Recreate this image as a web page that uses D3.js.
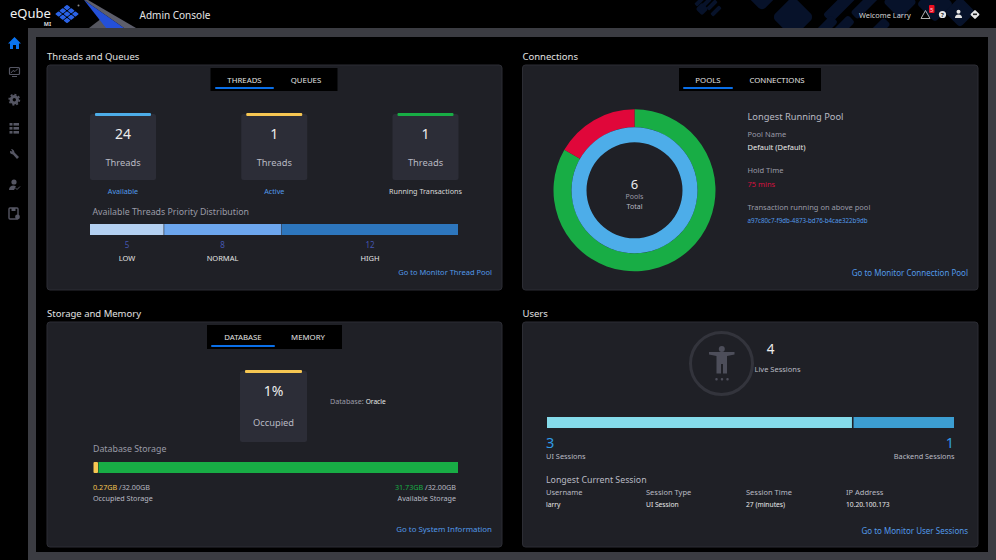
<!DOCTYPE html>
<html>
<head>
<meta charset="utf-8">
<title>Admin Console</title>
<script src="https://cdn.jsdelivr.net/npm/d3@7"></script>
<style>
html, body { margin: 0; padding: 0; background: #000; overflow: hidden; }
svg { display: block; }
text { font-family: "Noto Sans", "Open Sans", sans-serif; }
</style>
</head>
<body>
<svg id="page" width="996" height="560"></svg>
<script>
// chart values
var threadCards = ["Available", "Active", "Running Transactions"];
var threadCounts = [24, 1, 1];
var priorityNames = ["LOW", "NORMAL", "HIGH"];
var priorityCounts = [5, 8, 12];
var poolStates = ["ok", "long running"];
var poolCounts = [5, 1];
var poolTotal = [6];
var storageNames = ["Occupied Storage", "Available Storage"];
var storageUsed = [0.27, 31.73];
var storageTotal = 32;
var sessionNames = ["UI Sessions", "Backend Sessions"];
var sessionCounts = [3, 1];
var sessionHeaders = ["Username", "Session Type", "Session Time", "IP Address"];
var sessionValues = ["larry", "UI Session", "27 (minutes)", "10.20.100.173"];

var colors = {
    blue: "#4dade9", yellow: "#f6c652", green: "#18ad45", red: "#e0073a",
    link: "#5299e8", tab: "#0a6fe8", muted: "#9a9ba6", soft: "#b9bac3",
    panel: "#1f2026", card: "#2c2d37", frame: "#3b3c42"
};

var svg = d3.select("#page");

var label = function(x, y, str, size, fill, anchor, weight) {
    return svg.append("text")
        .attr("x", x).attr("y", y)
        .attr("font-size", size)
        .attr("fill", fill)
        .attr("text-anchor", anchor || "start")
        .attr("font-weight", weight || 400)
        .text(str);
};

var rect = function(x, y, w, h, fill, r) {
    return svg.append("rect")
        .attr("x", x).attr("y", y).attr("width", w).attr("height", h)
        .attr("fill", fill).attr("rx", r || 0);
};

// frame
rect(0, 0, 996, 560, "#000");
rect(28, 28, 968, 532, colors.frame);
rect(36, 37, 952, 515, "#000");

// header decoration, dark tiles behind the welcome text
svg.append("clipPath").attr("id", "headerClip").append("rect")
    .attr("x", 660).attr("y", 0).attr("width", 336).attr("height", 28);
var tiles = svg.append("g").attr("fill", "#07122a").attr("clip-path", "url(#headerClip)");
[[793, 17, 30, 30, 5], [762, -10, 30, 30, 5], [842, 4, 42, 12, 3], [866, 4, 34, 10, 3],
 [826, 27, 24, 10, 3], [843, 27, 24, 10, 3], [700, 1, 12, 4, 1], [706, 3, 12, 4, 1], [712, 5, 12, 4, 1],
 [716, 11, 12, 4, 1], [702, 9, 9, 9, 2], [900, 2, 24, 24, 4],
 [935, 4, 26, 26, 4], [960, 12, 22, 22, 4], [880, 28, 20, 10, 3]].forEach(function(t) {
    tiles.append("rect")
        .attr("x", -t[2] / 2).attr("y", -t[3] / 2)
        .attr("width", t[2]).attr("height", t[3]).attr("rx", t[4])
        .attr("transform", "translate(" + t[0] + "," + t[1] + ") rotate(-45)");
});

// logo
label(10, 17.5, "eQube", 13, "#f1f1f1");
label(47.5, 26, "MI", 5.5, "#d8d8d8", "middle", 700);
var logo = svg.append("g").attr("fill", "#2a62e6").attr("transform", "translate(67,14) scale(1,0.78) rotate(45)");
[0, 1, 2].forEach(function(i) {
    [0, 1, 2].forEach(function(j) {
        logo.append("rect").attr("x", -8.5 + i * 5.9).attr("y", -8.5 + j * 5.9)
            .attr("width", 5.1).attr("height", 5.1).attr("rx", 1);
    });
});
svg.append("circle").attr("cx", 78.5).attr("cy", 5.5).attr("r", 1).attr("fill", "#888");
svg.append("path").attr("d", "M89 28 L102 18 L114 28 Z").attr("fill", "#55565f");
svg.append("path").attr("d", "M84 0 L124 28 L136 28 L88 0 Z").attr("fill", "#5d5e6b");
svg.append("path").attr("d", "M84 0 L106 28 L124 28 Z").attr("fill", "#2450d8");
label(139.5, 19, "Admin Console", 10, "#e4e4e4");

// header right
label(859, 18, "Welcome Larry", 7.4, "#d3d3d3");
svg.append("path").attr("d", "M925.5 10.5 L930 18.5 L921 18.5 Z")
    .attr("fill", "none").attr("stroke", "#b0b0b0").attr("stroke-width", 1);
rect(929, 5, 5.5, 8, "#ee0d1f", 1);
label(931.8, 11.5, "5", 6, "#f3d9d9", "middle");
svg.append("circle").attr("cx", 942.5).attr("cy", 14.5).attr("r", 3.6).attr("fill", "#e6e6e6");
label(942.5, 16.8, "?", 6, "#222", "middle", 700);
svg.append("circle").attr("cx", 958.5).attr("cy", 11.8).attr("r", 2).attr("fill", "#e6e6e6");
svg.append("path").attr("d", "M955 18 Q955 14.5 958.5 14.5 Q962 14.5 962 18 Z").attr("fill", "#e6e6e6");
svg.append("rect").attr("x", -3.4).attr("y", -3.4).attr("width", 6.8).attr("height", 6.8).attr("rx", 1)
    .attr("fill", "#e6e6e6").attr("transform", "translate(975,14.5) rotate(45)");
rect(973, 13.5, 4, 1.6, "#222");

// sidebar icons
svg.append("path").attr("d", "M14.5 37 L21 43.5 L19 43.5 L19 49 L16 49 L16 45 L13 45 L13 49 L10 49 L10 43.5 L8 43.5 Z")
    .attr("fill", "#0a74f0");
var sideGrey = "#555663";
rect(9.5, 67.5, 10, 7, "none", 1).attr("stroke", sideGrey).attr("stroke-width", 1.2);
svg.append("path").attr("d", "M11 73 L13 70.5 L15 71.5 L18 68.5").attr("fill", "none").attr("stroke", sideGrey);
svg.append("path").attr("d", "M12 76.5 L17 76.5").attr("stroke", sideGrey);
svg.append("circle").attr("cx", 14.3).attr("cy", 99.7).attr("r", 3.2)
    .attr("fill", "none").attr("stroke", sideGrey).attr("stroke-width", 3);
svg.append("circle").attr("cx", 14.3).attr("cy", 99.7).attr("r", 5.2)
    .attr("fill", "none").attr("stroke", sideGrey).attr("stroke-width", 1.5).attr("stroke-dasharray", "2 2");
[123, 127, 131].forEach(function(y) {
    rect(9.5, y, 3, 2.6, sideGrey);
    rect(13.5, y, 5.5, 2.6, sideGrey);
});
svg.append("path").attr("d", "M10 151 Q9.5 154 13 154.5 L17 159 L19 157 L14.5 152.5 Q14 149 11 149 L12.5 151.5 Z").attr("fill", sideGrey);
svg.append("circle").attr("cx", 14).attr("cy", 182).attr("r", 2.6).attr("fill", sideGrey);
svg.append("path").attr("d", "M9 190 Q9 185.5 14 185.5 L16 186.5 L14 190 Z").attr("fill", sideGrey);
svg.append("path").attr("d", "M15.5 188 L17 189.5 L20 186.5").attr("fill", "none").attr("stroke", sideGrey);
rect(9, 208, 9, 11, "none", 1).attr("stroke", sideGrey).attr("stroke-width", 1.4);
rect(11.5, 208, 4, 3, sideGrey);
svg.append("circle").attr("cx", 17.5).attr("cy", 217).attr("r", 2.4).attr("fill", sideGrey);

// panels
var panel = function(x, y, w, h, title) {
    label(x, y - 5, title, 9.5, "#e2e2e2");
    rect(x, y, w, h, colors.panel, 3).attr("stroke", "#2c2d34").attr("stroke-width", 1);
};
panel(47, 65, 455, 225, "Threads and Queues");
panel(522.5, 65, 455.5, 225, "Connections");
panel(47, 322, 455, 225, "Storage and Memory");
panel(522.5, 322, 455.5, 225, "Users");

var tabs = function(x, w, y, h, a, ax, b, bx, ux, uw) {
    rect(x, y, w, h, "#000");
    label(ax, y + 15, a, 7.8, "#e2e2e2", "middle");
    label(bx, y + 15, b, 7.8, "#e2e2e2", "middle");
    rect(ux, y + h - 4, uw, 2, colors.tab, 1);
};
tabs(210.5, 127, 68, 23, "THREADS", 244.5, "QUEUES", 306, 215, 59);
tabs(679, 142, 68, 23, "POOLS", 708, "CONNECTIONS", 777, 683, 50);
tabs(207, 135, 325, 24, "DATABASE", 243, "MEMORY", 308, 211, 64);

var card = function(cx, top, w, h, bar, value, name, nameOffset) {
    rect(cx - w / 2, top, w, h, colors.card, 2.5);
    rect(cx - w / 2 + 5, top - 1, w - 10, 3, bar, 1);
    label(cx, top + 25, value, 14, "#ececec", "middle");
    label(cx, top + nameOffset, name, 9.3, colors.soft, "middle");
};

// thread cards
var cardX = d3.scalePoint().domain(threadCards).range([123, 425.5]);
var cardColors = [colors.blue, colors.yellow, colors.green];
var cardLabels = [colors.link, colors.link, "#d8d8d8"];
threadCards.forEach(function(name, i) {
    card(cardX(name), 114, 66, 66, cardColors[i], threadCounts[i], "Threads", 52);
    label(cardX(name), 194, name, 7.2, cardLabels[i], "middle");
});
label(92.5, 214.5, "Available Threads Priority Distribution", 8.8, colors.muted);

// priority bar
var priorityX = d3.scaleLinear().domain([0, d3.sum(priorityCounts)]).range([90, 458]);
var priorityFills = ["#b4d0f1", "#6ca6ee", "#2d76bd"];
var running = 0;
priorityCounts.forEach(function(v, i) {
    var x0 = priorityX(running), x1 = priorityX(running + v);
    rect(x0 + (i ? 0.6 : 0), 224, x1 - x0 - (i ? 0.6 : 0), 11, priorityFills[i]);
    running += v;
});
var priorityLabelX = [127, 222.5, 370];
priorityNames.forEach(function(name, i) {
    label(priorityLabelX[i], 247.5, priorityCounts[i], 8, "#4456b0", "middle");
    label(priorityLabelX[i], 261, name, 7.5, "#e4e4e4", "middle");
});
label(492, 275, "Go to Monitor Thread Pool", 7.5, colors.link, "end");

// pools donut
var donut = svg.append("g").attr("transform", "translate(634.5,190.3)");
var pie = d3.pie().sort(null).startAngle(0).endAngle(2 * Math.PI);
var outerArc = d3.arc().innerRadius(63).outerRadius(81);
var innerArc = d3.arc().innerRadius(48).outerRadius(63);
donut.selectAll("path.outer").data(pie(poolCounts)).enter().append("path")
    .attr("class", "outer")
    .attr("d", outerArc)
    .attr("fill", function(d, i) { return i ? colors.red : colors.green; });
donut.selectAll("path.inner").data(pie(poolTotal)).enter().append("path")
    .attr("class", "inner")
    .attr("d", innerArc)
    .attr("fill", colors.blue);
label(634.5, 189, poolTotal[0], 13, "#ececec", "middle");
label(634.5, 199, "Pools", 7, colors.muted, "middle");
label(634.5, 208.5, "Total", 7, colors.soft, "middle");

label(747.5, 120, "Longest Running Pool", 9.3, colors.soft);
label(747.5, 137, "Pool Name", 7.5, colors.muted);
label(747.5, 150, "Default (Default)", 7.5, "#e8e8e8");
label(747.5, 173, "Hold Time", 7.5, colors.muted);
label(747.5, 187, "75 mins", 7.5, "#d5113f");
label(747.5, 210, "Transaction running on above pool", 7.5, colors.muted);
label(747.5, 223, "a97c80c7-f9db-4873-bd76-b4cae322b9db", 6.2, colors.link);
label(968, 276, "Go to Monitor Connection Pool", 8, colors.link, "end");

// database
card(273.5, 371, 67, 71, colors.yellow, "1%", "Occupied", 55);
label(330, 404, "Database: ", 7.2, colors.muted).append("tspan").attr("fill", "#e8e8e8").attr("font-size", 6.6).text("Oracle");
label(93, 452, "Database Storage", 8.8, colors.muted);

var storageX = d3.scaleLinear().domain([0, storageTotal]).range([93, 458]);
var usedEnd = storageX(storageUsed[0]);
rect(93.5, 462, Math.max(usedEnd - 93, 4.5), 11, colors.yellow, 1);
rect(98.5, 462, storageX(storageTotal) - 98.5, 11, colors.green);

var storageText = d3.format(".2f");
label(93, 489.5, storageText(storageUsed[0]) + "GB", 7.2, colors.yellow)
    .append("tspan").attr("fill", colors.soft).text(" /" + storageText(storageTotal) + "GB");
label(93, 500.5, storageNames[0], 7.2, colors.soft);
var availLabel = label(456, 489.5, storageText(storageUsed[1]) + "GB", 7.2, colors.green, "end");
availLabel.append("tspan").attr("fill", colors.soft).text(" /" + storageText(storageTotal) + "GB");
label(456, 500.5, storageNames[1], 7.2, colors.soft, "end");
label(492, 532, "Go to System Information", 7.9, colors.link, "end");

// users
svg.append("circle").attr("cx", 721.5).attr("cy", 363.5).attr("r", 31)
    .attr("fill", "none").attr("stroke", "#33343c").attr("stroke-width", 3);
var person = "#4d4e5a";
svg.append("circle").attr("cx", 721.8).attr("cy", 349).attr("r", 3).attr("fill", person);
svg.append("path").attr("d", "M709 352 L734.5 352 L734.5 354.5 L727 356 L727 373.5 L723 373.5 L723 364 L721 364 L721 373.5 L716.5 373.5 L716.5 356 L709 354.5 Z")
    .attr("fill", person);
[716.5, 722, 727.5].forEach(function(x) {
    rect(x - 1.2, 378, 2.4, 2.4, person, 1);
});
label(770.5, 354, d3.sum(sessionCounts), 13.5, "#ececec", "middle");
label(777.5, 372, "Live Sessions", 7.5, colors.soft, "middle");

var sessionX = d3.scaleLinear().domain([0, d3.sum(sessionCounts)]).range([547, 954]);
rect(sessionX(0), 417, sessionX(sessionCounts[0]) - sessionX(0) - 0.3, 11, "#85dbea");
rect(sessionX(sessionCounts[0]) + 1.3, 417, sessionX(d3.sum(sessionCounts)) - sessionX(sessionCounts[0]) - 1.3, 11, "#3c9ed2");
label(546, 448, sessionCounts[0], 14.5, "#2f9be6");
label(954, 448, sessionCounts[1], 14.5, "#2f9be6", "end");
label(546, 459, sessionNames[0], 7.4, colors.soft);
label(954.5, 459, sessionNames[1], 7.3, colors.soft, "end");
label(546, 483, "Longest Current Session", 8.8, colors.soft);
var colX = d3.scalePoint().domain(sessionHeaders).range([546, 846]);
sessionHeaders.forEach(function(h, i) {
    label(colX(h), 495, h, 7.5, colors.soft);
    label(colX(h), 507, sessionValues[i], 6.7, "#e8e8e8");
});
label(968, 534, "Go to Monitor User Sessions", 8, colors.link, "end");
</script>
</body>
</html>
